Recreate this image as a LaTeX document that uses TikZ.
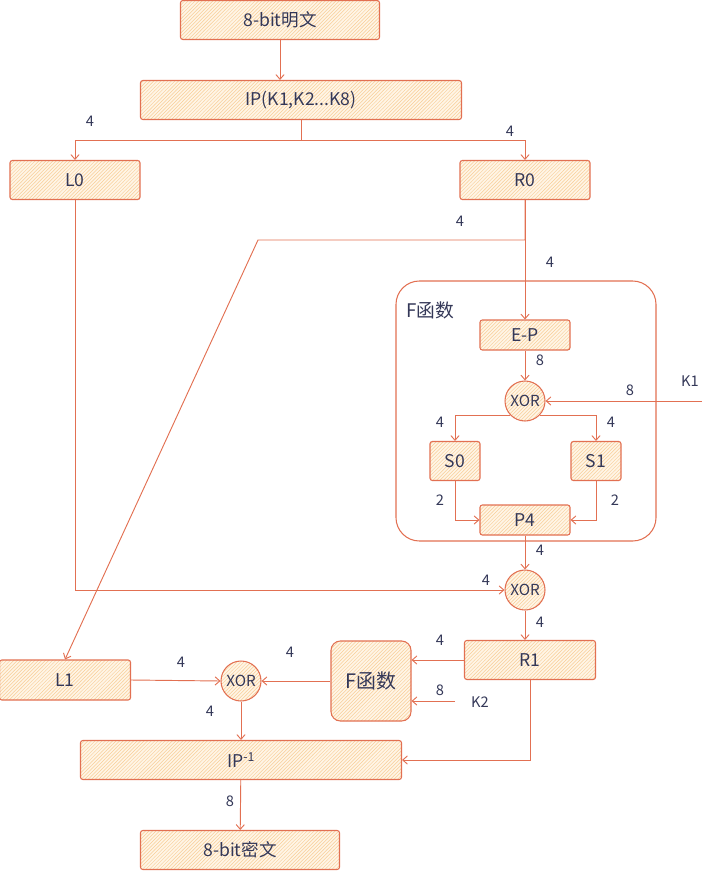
\documentclass[tikz,border=0pt]{standalone}
\usepackage{fontspec}
\usepackage{tikz}
\usetikzlibrary{arrows.meta, patterns}
\newfontfamily\cjk{Noto Sans CJK SC}
\definecolor{strk}{RGB}{226,112,82}
\definecolor{hatch}{RGB}{248,205,150}
\definecolor{paper}{RGB}{255,245,230}
\definecolor{ink}{RGB}{52,56,88}

\begin{document}
\begin{tikzpicture}[x=0.03cm, y=-0.03cm,
  box/.style={draw=strk, line width=0.9pt, rounded corners=2pt, preaction={fill=paper},
    pattern=north east lines, pattern color=hatch, text=ink,
    font=\cjk\fontsize{15}{17}\selectfont, inner sep=0pt},
  xorc/.style={box, circle, minimum size=1.2cm, font=\cjk\fontsize{13}{15}\selectfont},
  lbl/.style={text=ink, font=\cjk\fontsize{12.5}{14}\selectfont, inner sep=1pt},
  conn/.style={draw=strk, line width=0.8pt, -{Straight Barb[length=4pt,width=7pt]}}
]
\useasboundingbox (0,0) rectangle (711,871);
\node[draw=strk, line width=0.9pt, rounded corners=20pt, minimum width=7.8cm, minimum height=7.8cm] (fcont) at (526,411) {};
\node[lbl, font=\cjk\fontsize{16}{18}\selectfont] (fname) at (430,310) {F函数};
\node[box, minimum width=5.97cm, minimum height=1.17cm] (pt) at (280,20) {8-bit明文};
\node[box, minimum width=9.63cm, minimum height=1.17cm] (ip) at (301,100) {IP(K1,K2...K8)};
\node[box, minimum width=3.9cm, minimum height=1.17cm] (l0) at (75,180) {L0};
\node[box, minimum width=3.9cm, minimum height=1.17cm] (r0) at (525,180) {R0};
\node[box, minimum width=2.7cm, minimum height=0.9cm] (ep) at (525,335) {E-P};
\node[xorc] (xor1) at (525,401) {XOR};
\node[box, minimum width=1.5cm, minimum height=1.17cm] (s0) at (455,461) {S0};
\node[box, minimum width=1.5cm, minimum height=1.17cm] (s1) at (596,461) {S1};
\node[box, minimum width=2.7cm, minimum height=0.9cm] (p4) at (525,520) {P4};
\node[xorc] (xor2) at (525,590) {XOR};
\node[box, minimum width=3.93cm, minimum height=1.17cm] (r1) at (530,660) {R1};
\node[box, minimum width=3.93cm, minimum height=1.2cm] (l1) at (65,680) {L1};
\node[xorc] (xor3) at (241,681) {XOR};
\node[box, rounded corners=8pt, minimum size=2.4cm, font=\cjk\fontsize{17}{19}\selectfont] (fbox) at (371,681) {F函数};
\node[box, minimum width=9.63cm, minimum height=1.17cm] (ipinv) at (241,760) {IP\textsuperscript{-1}};
\node[box, minimum width=5.97cm, minimum height=1.17cm] (ct) at (240,850) {8-bit密文};
\node[lbl] (k1) at (690,381) {K1};
\node[lbl] (k2) at (480,702) {K2};
\coordinate (k1in) at (702,401);
\coordinate (k2in) at (455,701);
\coordinate (bend) at (258,240);
\draw[conn] (pt.south) -- (pt.south |- ip.north);
\draw[conn] (ip.south) -- ++(0,20) -| (l0.north);
\draw[conn] (ip.south) -- ++(0,20) -| (r0.north);
\draw[conn] (l0.south) |- (xor2.west);
\draw[conn] (r0.south) -- (ep.north);
\draw[conn] (r0.south) |- (bend) -- (l1.north);
\draw[conn] (ep) -- (xor1);
\draw[conn] (k1in) -- (xor1.east);
\draw[conn] (xor1.south west) -| (s0.north);
\draw[conn] (xor1.south east) -| (s1.north);
\draw[conn] (s0.south) |- (p4.west);
\draw[conn] (s1.south) |- (p4.east);
\draw[conn] (p4) -- (xor2);
\draw[conn] (xor2.south) -- (xor2.south |- r1.north);
\draw[conn] (r1.west) -- (r1.west -| fbox.east);
\draw[conn] (k2in) -- (k2in -| fbox.east);
\draw[conn] (fbox.west) -- (xor3.east);
\draw[conn] (l1.east) -- (xor3.west);
\draw[conn] (xor3) -- (ipinv);
\draw[conn] (r1.south) |- (ipinv.east);
\draw[conn] (ipinv) -- (ct);
\node[lbl] (n1) at (90,121) {4};
\node[lbl] (n2) at (510,131) {4};
\node[lbl] (n3) at (460,221) {4};
\node[lbl] (n4) at (550,262) {4};
\node[lbl] (n5) at (540,360) {8};
\node[lbl] (n6) at (630,390) {8};
\node[lbl] (n7) at (440,422) {4};
\node[lbl] (n8) at (611,422) {4};
\node[lbl] (n9) at (440,500) {2};
\node[lbl] (n10) at (615,500) {2};
\node[lbl] (n11) at (540,550) {4};
\node[lbl] (n12) at (486,580) {4};
\node[lbl] (n13) at (540,622) {4};
\node[lbl] (n14) at (440,640) {4};
\node[lbl] (n15) at (440,690) {8};
\node[lbl] (n16) at (290,652) {4};
\node[lbl] (n17) at (181,662) {4};
\node[lbl] (n18) at (210,711) {4};
\node[lbl] (n19) at (230,801) {8};
\end{tikzpicture}
\end{document}
